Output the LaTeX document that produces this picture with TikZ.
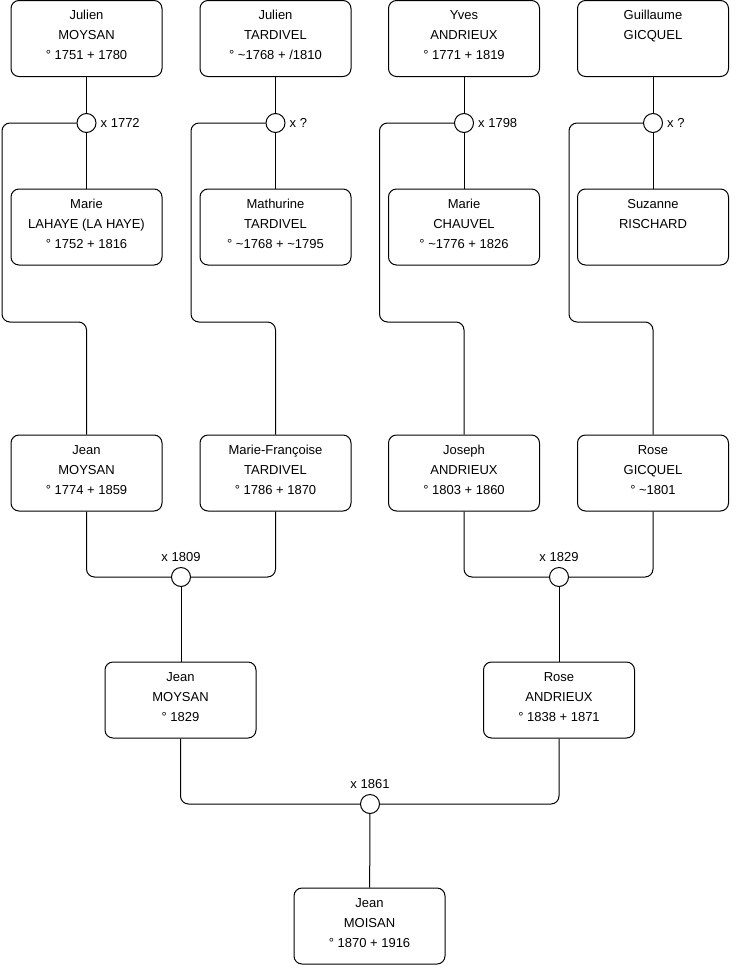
\documentclass[tikz,border=0pt]{standalone}
\usepackage{fontspec}
\setmainfont{Liberation Sans}
\usetikzlibrary{positioning}

\tikzset{
  personne/.style={draw, rounded corners=8pt, line width=1pt, minimum width=151pt, minimum height=76pt,
    align=center, inner sep=0pt, font=\fontsize{13}{20}\selectfont},
  troislignes/.style={text height=49pt, text depth=7pt},
  deuxlignes/.style={text height=29pt, text depth=27pt},
  union/.style={draw, circle, line width=1pt, fill=white, minimum size=19pt, inner sep=0pt},
  lien/.style={line width=1pt, rounded corners=8pt},
  annee/.style={inner sep=1pt, font=\fontsize{13}{15}\selectfont}
}

\begin{document}
\begin{tikzpicture}[x=1pt, y=-1pt]
    \useasboundingbox (0,0) rectangle (740,975);

    % Arrière-arrière-grands-parents
    \node[personne, troislignes] (p1) at (86.5,38.5) {Julien\\MOYSAN\\° 1751 + 1780};
    \node[personne, troislignes] (p2) at (275.5,38.5) {Julien\\TARDIVEL\\° \textasciitilde1768 + /1810};
    \node[personne, troislignes] (p3) at (464,38.5) {Yves\\ANDRIEUX\\° 1771 + 1819};
    \node[personne, deuxlignes] (p4) at (653,38.5) {Guillaume\\GICQUEL};

    \node[personne, troislignes] (f1) at (86.5,227) {Marie\\LAHAYE (LA HAYE)\\° 1752 + 1816};
    \node[personne, troislignes] (f2) at (275.5,227) {Mathurine\\TARDIVEL\\° \textasciitilde1768 + \textasciitilde1795};
    \node[personne, troislignes] (f3) at (464,227) {Marie\\CHAUVEL\\° \textasciitilde1776 + 1826};
    \node[personne, deuxlignes] (f4) at (653,227) {Suzanne\\RISCHARD};

    \node[union] (u1) at (86.5,123) {};
    \node[union] (u2) at (275.5,123) {};
    \node[union] (u3) at (464,123) {};
    \node[union] (u4) at (653,123) {};
    \node[annee, right=3pt of u1] (a1) {x 1772};
    \node[annee, right=3pt of u2] (a2) {x ?};
    \node[annee, right=3pt of u3] (a3) {x 1798};
    \node[annee, right=3pt of u4] (a4) {x ?};

    % Arrière-grands-parents
    \node[personne, troislignes] (e1) at (86.5,473) {Jean\\MOYSAN\\° 1774 + 1859};
    \node[personne, troislignes] (e2) at (275.5,473) {Marie-Françoise\\TARDIVEL\\° 1786 + 1870};
    \node[personne, troislignes] (e3) at (464,473) {Joseph\\ANDRIEUX\\° 1803 + 1860};
    \node[personne, troislignes] (e4) at (653,473) {Rose\\GICQUEL\\° \textasciitilde1801};

    \node[union] (u5) at (181,577) {};
    \node[union] (u6) at (559,577) {};
    \node[annee, above=4pt of u5] (a5) {x 1809};
    \node[annee, above=4pt of u6] (a6) {x 1829};

    % Grands-parents
    \node[personne, troislignes] (g1) at (180.5,700) {Jean\\MOYSAN\\° 1829};
    \node[personne, troislignes] (g2) at (559,700) {Rose\\ANDRIEUX\\° 1838 + 1871};

    \node[union] (u7) at (370,804) {};
    \node[annee, above=4pt of u7] (a7) {x 1861};

    \node[personne, troislignes] (m1) at (369.5,926) {Jean\\MOISAN\\° 1870 + 1916};

    % Liens
    \draw[lien] (p1) -- (u1) -- (f1);
    \draw[lien] (p2) -- (u2) -- (f2);
    \draw[lien] (p3) -- (u3) -- (f3);
    \draw[lien] (p4) -- (u4) -- (f4);
    \draw[lien] (u1.west) -| (2,322) -| (e1.north);
    \draw[lien] (u2.west) -| (191,322) -| (e2.north);
    \draw[lien] (u3.west) -| (379.5,322) -| (e3.north);
    \draw[lien] (u4.west) -| (569,322) -| (e4.north);

    \draw[lien] (e1.south) |- (u5.west);
    \draw[lien] (e2.south) |- (u5.east);
    \draw[lien] (e3.south) |- (u6.west);
    \draw[lien] (e4.south) |- (u6.east);
    \draw[lien] (u5) -- (u5 |- g1.north);
    \draw[lien] (u6) -- (g2);

    \draw[lien] (g1.south) |- (u7.west);
    \draw[lien] (g2.south) |- (u7.east);
    \draw[lien] (u7) -- (m1);
\end{tikzpicture}
\end{document}
